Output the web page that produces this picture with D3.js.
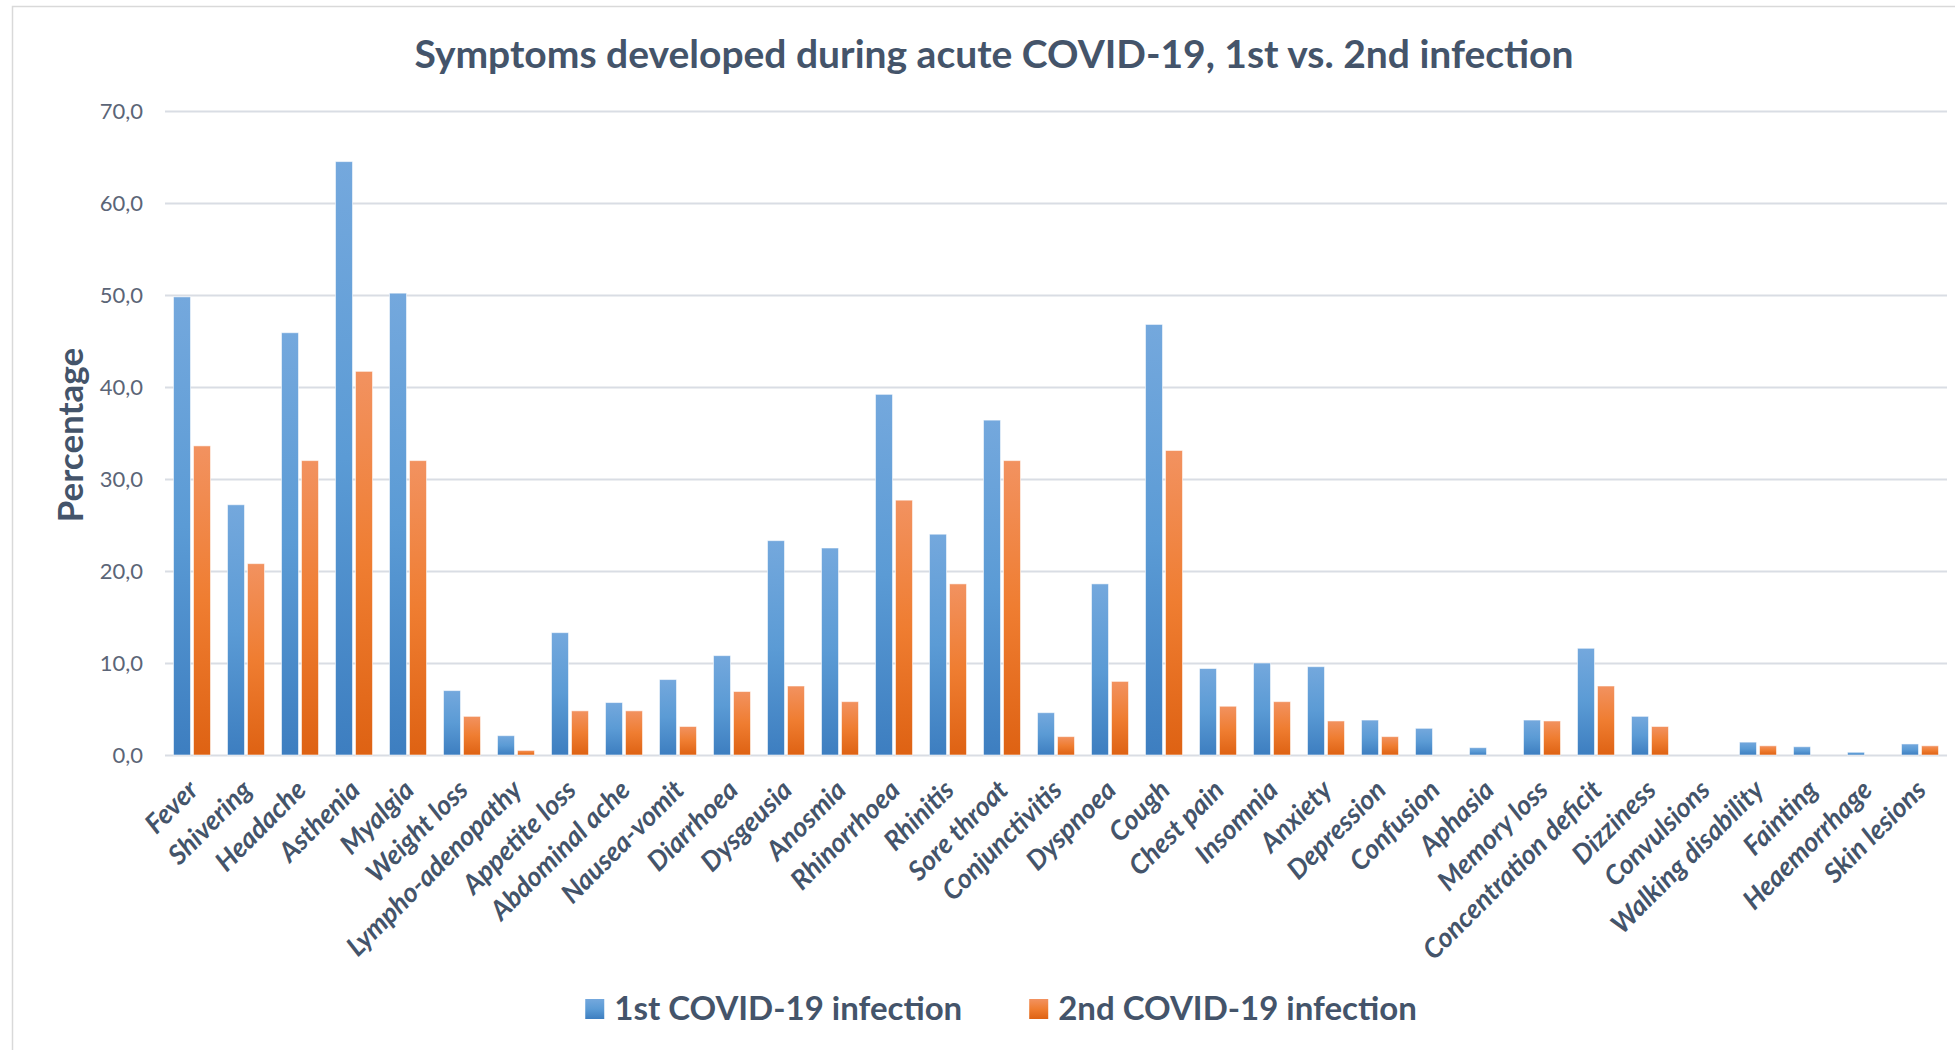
<!DOCTYPE html>
<html>
<head>
<meta charset="utf-8">
<script src="https://cdn.jsdelivr.net/npm/d3@7/dist/d3.min.js"></script>
<style>
  html, body { margin: 0; padding: 0; background: #ffffff; }
  svg { display: block; font-family: Lato, "Open Sans", sans-serif; }
</style>
</head>
<body>
<div id="chart"></div>
<script>
// chart data
var categories = [
  'Fever', 'Shivering', 'Headache', 'Asthenia', 'Myalgia', 'Weight loss',
  'Lympho-adenopathy', 'Appetite loss', 'Abdominal ache', 'Nausea-vomit',
  'Diarrhoea', 'Dysgeusia', 'Anosmia', 'Rhinorrhoea', 'Rhinitis', 'Sore throat',
  'Conjunctivitis', 'Dyspnoea', 'Cough', 'Chest pain', 'Insomnia', 'Anxiety',
  'Depression', 'Confusion', 'Aphasia', 'Memory loss', 'Concentration deficit',
  'Dizziness', 'Convulsions', 'Walking disability', 'Fainting', 'Heaemorrhage',
  'Skin lesions'
];
var firstInfection = [
  49.8, 27.2, 45.9, 64.5, 50.2, 7.0, 2.1, 13.3, 5.7, 8.2,
  10.8, 23.3, 22.5, 39.2, 24.0, 36.4, 4.6, 18.6, 46.8, 9.4,
  10.0, 9.6, 3.8, 2.9, 0.8, 3.8, 11.6, 4.2, 0, 1.4,
  0.9, 0.3, 1.2
];
var secondInfection = [
  33.6, 20.8, 32.0, 41.7, 32.0, 4.2, 0.5, 4.8, 4.8, 3.1,
  6.9, 7.5, 5.8, 27.7, 18.6, 32.0, 2.0, 8.0, 33.1, 5.3,
  5.8, 3.7, 2.0, 0, 0, 3.7, 7.5, 3.1, 0, 1.0,
  0, 0, 1.0
];
var seriesNames = ['1st COVID-19 infection', '2nd COVID-19 infection'];
var yTicks = [0, 10, 20, 30, 40, 50, 60, 70];
var chartTitle = 'Symptoms developed during acute COVID-19, 1st vs. 2nd infection';
var yTitle = 'Percentage';

(function()
{
  var W = 1955,
      H = 1050,
      left = 165,
      right = 1947,
      top = 111,
      bottom = 755,
      textDark = '#44546a',
      textTick = '#5b6577',
      gridColor = '#d9dde4'
  ;

  var svg = d3.select('#chart')
    .append('svg')
      .attr('width', W)
      .attr('height', H);

  // gradients like the office bar fill
  var defs = svg.append('defs');
  var gradients = [
    { id: 'gBlue', stops: ['#74a8dd', '#5b9bd5', '#3d7ec0'] },
    { id: 'gOrange', stops: ['#f29260', '#ef7d31', '#de6213'] }
  ];
  gradients.forEach(function( g )
  {
    var lg = defs.append('linearGradient')
      .attr('id', g.id)
      .attr('x1', 0).attr('y1', 0)
      .attr('x2', 0).attr('y2', 1);
    g.stops.forEach(function( c, i )
    {
      lg.append('stop')
        .attr('offset', (i * 50) + '%')
        .attr('stop-color', c);
    });
  });
  var fills = ['url(#gBlue)', 'url(#gOrange)'];

  // outer chart border
  svg.append('rect')
    .attr('x', 12.5)
    .attr('y', 6.5)
    .attr('width', W)
    .attr('height', H)
    .attr('fill', 'none')
    .attr('stroke', '#d9d9d9')
    .attr('stroke-width', 1.5);

  var x = d3.scaleBand()
    .domain(categories)
    .range([left, right]);

  var x1 = d3.scaleBand()
    .domain([0, 1])
    .range([0, x.bandwidth()])
    .paddingInner(0.15)
    .paddingOuter(0.425);

  var y = d3.scaleLinear()
    .domain([0, 70])
    .range([bottom, top]);

  var comma = d3.formatLocale({ decimal: ',', thousands: '.', grouping: [3], currency: ['', ''] });

  // y axis with gridlines
  var yAxis = svg.append('g')
    .attr('transform', 'translate(' + left + ',0)')
    .call(
      d3.axisLeft(y)
        .tickValues(yTicks)
        .tickSize(-(right - left))
        .tickPadding(22)
        .tickFormat(comma.format('.1f'))
    );
  yAxis.select('.domain').remove();
  yAxis.selectAll('.tick line')
    .attr('stroke', gridColor)
    .attr('stroke-width', 2);
  yAxis.selectAll('.tick text')
    .attr('fill', textTick)
    .style('font-size', '22px')
    .style('font-family', 'Lato, sans-serif');

  // bars
  var series = [firstInfection, secondInfection];
  series.forEach(function( values, s )
  {
    var rows = values.map(function( v, i )
    {
      return { cat: categories[i], value: v };
    });

    svg.append('g')
      .selectAll('rect')
      .data(rows.filter(function( d ) { return d.value > 0; }))
      .enter()
        .append('rect')
        .attr('x', function( d ) { return x(d.cat) + x1(s); })
        .attr('y', function( d ) { return y(d.value); })
        .attr('width', x1.bandwidth())
        .attr('height', function( d ) { return y(0) - y(d.value); })
        .attr('fill', fills[s])
        .attr('stroke', 'rgba(255,255,255,0.55)')
        .attr('stroke-width', 1);
  });

  // x axis labels
  var xAxis = svg.append('g')
    .attr('transform', 'translate(0,' + bottom + ')')
    .call(d3.axisBottom(x).tickSize(0).tickPadding(0));
  xAxis.select('.domain').remove();
  xAxis.selectAll('.tick text')
    .attr('fill', textDark)
    .attr('text-anchor', 'end')
    .attr('x', 0)
    .attr('y', 0)
    .attr('dy', '0.35em')
    .attr('transform', 'translate(1,30) rotate(-45)')
    .style('font-size', '27px')
    .style('font-weight', 'bold')
    .style('font-style', 'italic')
    .style('font-family', 'Lato, sans-serif');

  // title
  svg.append('text')
    .attr('x', 994)
    .attr('y', 68)
    .attr('text-anchor', 'middle')
    .attr('fill', textDark)
    .style('font-size', '39px')
    .style('font-weight', 'bold')
    .text(chartTitle);

  // y title
  svg.append('text')
    .attr('transform', 'translate(83,435) rotate(-90)')
    .attr('text-anchor', 'middle')
    .attr('fill', textDark)
    .style('font-size', '35px')
    .style('font-weight', 'bold')
    .text(yTitle);

  // legend
  var legend = svg.append('g');
  var items = legend.selectAll('g')
    .data(seriesNames)
    .enter()
      .append('g');
  items.append('rect')
    .attr('y', 999)
    .attr('width', 19)
    .attr('height', 20)
    .attr('fill', function( d, i ) { return fills[i]; });
  items.append('text')
    .attr('x', 29)
    .attr('y', 1020)
    .attr('fill', textDark)
    .style('font-size', '33px')
    .style('font-weight', 'bold')
    .text(function( d ) { return d; });

  // place legend items side by side, centred
  var widths = [],
      gap = 67,
      total = 0,
      pos
  ;
  items.each(function()
  {
    var w = 29 + d3.select(this).select('text').node().getComputedTextLength();
    widths.push(w);
    total += w;
  });
  total += gap;
  pos = 1001 - total / 2;
  items.attr('transform', function( d, i )
  {
    var t = 'translate(' + pos + ',0)';
    pos += widths[i] + gap;
    return t;
  });
})();
</script>
</body>
</html>
